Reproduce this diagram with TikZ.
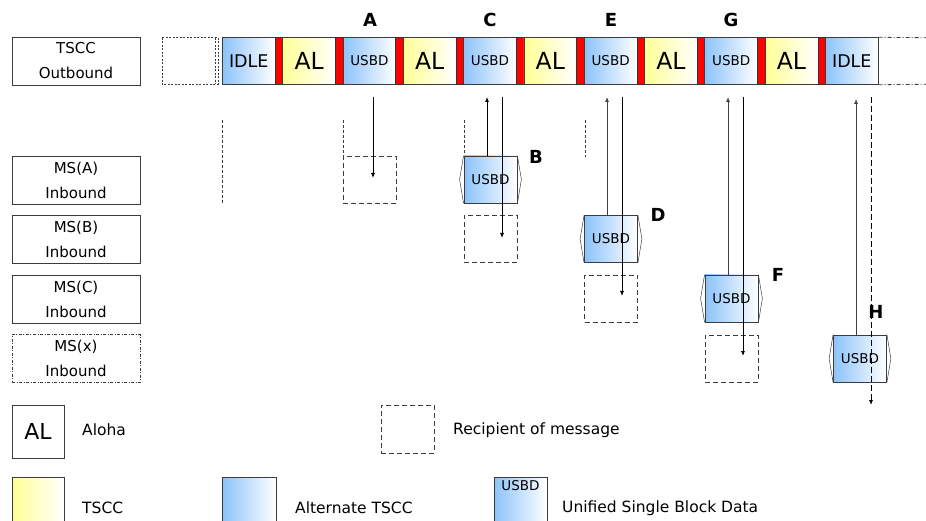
\documentclass[tikz,border=0pt]{standalone}
\usepackage{fontspec}
\setmainfont{DejaVu Sans}
\usetikzlibrary{arrows.meta}
\definecolor{bblue}{RGB}{140,195,250}
\definecolor{byel}{RGB}{255,255,150}
\definecolor{lin}{RGB}{60,60,60}
\begin{document}
\begin{tikzpicture}[x=1pt,y=-1pt,
  blk/.style={draw=lin, line width=0.8pt, minimum width=52.8pt, minimum height=46.6pt, inner sep=0pt, anchor=west},
  bluef/.style={left color=bblue, right color=white},
  yelf/.style={left color=byel, right color=white},
  redbar/.style={draw=black!80, fill=red, line width=0.5pt, minimum width=7.5pt, minimum height=46.6pt, inner sep=0pt, anchor=west},
  fidle/.style={font=\fontsize{17.5}{18}\selectfont},
  fal/.style={font=\fontsize{23.5}{26}\selectfont},
  fusbd/.style={font=\fontsize{13.5}{14}\selectfont},
  lblbox/.style={draw=lin, line width=0.8pt, minimum width=128pt, minimum height=48pt, inner sep=0pt, align=center, font=\fontsize{15}{25}\selectfont},
  msgbox/.style={draw=lin, line width=0.8pt, bluef, minimum width=53pt, minimum height=47pt, inner sep=0pt, fusbd},
  recbox/.style={draw=lin, line width=0.8pt, dash pattern=on 5pt off 3pt, minimum width=53pt, minimum height=47pt, inner sep=0pt},
  letter/.style={font=\bfseries\fontsize{18}{18}\selectfont},
  legtxt/.style={font=\fontsize{15.5}{17}\selectfont, anchor=west, inner sep=0pt},
  guide/.style={draw=lin, line width=0.7pt, dash pattern=on 3pt off 2pt},
  arr/.style={draw=black, line width=0.8pt, -{Latex[length=5pt,width=4pt]}},
  uparr/.style={draw=black!75, line width=0.8pt, -{Latex[length=5pt,width=4pt]}},
]
\useasboundingbox (0,0) rectangle (926,521);

% left labels
\node[lblbox] (tscc) at (76,61) {TSCC\\Outbound};
\node[lblbox] (msa) at (76,180) {MS(A)\\Inbound};
\node[lblbox] (msb) at (76,239) {MS(B)\\Inbound};
\node[lblbox] (msc) at (76,299) {MS(C)\\Inbound};
\node[lblbox, dash pattern=on 3pt off 1.5pt on 1pt off 1.5pt] (msx) at (76,358.5) {MS(x)\\Inbound};

% dashed pre-box
\draw[draw=lin, line width=0.8pt, dash pattern=on 2pt off 1.5pt] (162,37.7) rectangle (218,84.3);
\draw[draw=lin, line width=0.8pt, dash pattern=on 2pt off 1.5pt] (215,37.7) -- (215,84.3);

% strip
\node[blk, bluef, fidle] (b0) at (222,61) {IDLE};
\node[redbar] (r0) at (274.8,61) {};
\node[blk, yelf, fal] (b1) at (282.3,61) {AL};
\node[redbar] (r1) at (335.1,61) {};
\node[blk, bluef, fusbd] (b2) at (342.6,61) {USBD};
\node[redbar] (r2) at (395.4,61) {};
\node[blk, yelf, fal] (b3) at (402.9,61) {AL};
\node[redbar] (r3) at (455.7,61) {};
\node[blk, bluef, fusbd] (b4) at (463.2,61) {USBD};
\node[redbar] (r4) at (516.0,61) {};
\node[blk, yelf, fal] (b5) at (523.5,61) {AL};
\node[redbar] (r5) at (576.3,61) {};
\node[blk, bluef, fusbd] (b6) at (583.8,61) {USBD};
\node[redbar] (r6) at (636.6,61) {};
\node[blk, yelf, fal] (b7) at (644.1,61) {AL};
\node[redbar] (r7) at (696.9,61) {};
\node[blk, bluef, fusbd] (b8) at (704.4,61) {USBD};
\node[redbar] (r8) at (757.2,61) {};
\node[blk, yelf, fal] (b9) at (764.7,61) {AL};
\node[redbar] (r9) at (817.5,61) {};
\node[blk, bluef, fidle] (b10) at (825,61) {IDLE};
\draw[draw=lin, line width=0.8pt, dash pattern=on 4pt off 2pt on 1pt off 2pt] (b10.north east) -- (926,37.7);
\draw[draw=lin, line width=0.8pt, dash pattern=on 4pt off 2pt on 1pt off 2pt] (b10.south east) -- (926,84.3);

% letters
\node[letter] (lA) at (370,20) {A};
\node[letter] (lC) at (490,20) {C};
\node[letter] (lE) at (611,20) {E};
\node[letter] (lG) at (731,20) {G};
\node[letter] (lB) at (536,157) {B};
\node[letter] (lD) at (658,215) {D};
\node[letter] (lF) at (778,275) {F};
\node[letter] (lH) at (876,312) {H};

% guides
\draw[guide] (222,120) -- (222,203);
\draw[guide] (343,120) -- (343,156);
\draw[guide] (464,120) -- (464,156);
\draw[guide] (585,120) -- (585,157);

% recipient boxes
\node[recbox] (ra) at (369.5,179.5) {};
\node[recbox] (rb) at (490.5,239) {};
\node[recbox] (rc) at (611,298.5) {};
\node[recbox] (rx) at (731.5,358.5) {};

% message boxes
\node[msgbox] (mB) at (490.5,179.5) {USBD};
\node[msgbox] (mD) at (611,239) {USBD};
\node[msgbox] (mF) at (731.5,298.5) {USBD};
\node[msgbox] (mH) at (860,358.5) {USBD};
\foreach \m in {mB,mD,mF,mH}{
  \draw[draw=lin, line width=0.5pt] (\m.north west) -- ([xshift=-4pt]\m.west) -- (\m.south west);
  \draw[draw=lin, line width=0.5pt] (\m.north east) -- ([xshift=4pt]\m.east) -- (\m.south east);
}

% connectors
\coordinate (tA) at (373,97);   \coordinate (eA) at (373,178);
\coordinate (tB) at (487,97);   \coordinate (sB) at (487,156);
\coordinate (tC) at (502,97);   \coordinate (eC) at (502,238);
\coordinate (tD) at (607,97);   \coordinate (sD) at (607,215.5);
\coordinate (tE) at (622,97);   \coordinate (eE) at (622,296);
\coordinate (tF) at (728,97);   \coordinate (sF) at (728,275);
\coordinate (tG) at (743,97);   \coordinate (eG) at (743,356);
\coordinate (tH) at (856,99);   \coordinate (sH) at (856,335);
\coordinate (tH2) at (871,97);  \coordinate (eH2) at (871,405);
\draw[arr] (tA) -- (eA);
\draw[arr] (sB) -- (tB);
\draw[arr] (tC) -- (eC);
\draw[uparr] (sD) -- (tD);
\draw[arr] (tE) -- (eE);
\draw[uparr] (sF) -- (tF);
\draw[arr] (tG) -- (eG);
\draw[uparr] (sH) -- (tH);
\draw[arr, dash pattern=on 6pt off 3pt] (tH2) -- (eH2);

% legend
\node[draw=lin, line width=0.8pt, minimum width=52pt, minimum height=53pt, inner sep=0pt, font=\fontsize{22}{24}\selectfont] (lgAL) at (38,431.5) {AL};
\node[legtxt] (tAL) at (82,430) {Aloha};
\node[recbox, minimum height=48pt] (lgR) at (407.5,429) {};
\node[legtxt] (tR) at (453,430) {Recipient of message};
\node[draw=lin, line width=0.8pt, yelf, minimum width=52pt, minimum height=48pt, inner sep=0pt, anchor=north] (lgT) at (38,477) {};
\node[legtxt] (tT) at (82,508) {TSCC};
\node[draw=lin, line width=0.8pt, bluef, minimum width=54pt, minimum height=48pt, inner sep=0pt, anchor=north] (lgA) at (249,477) {};
\node[legtxt] (tA2) at (295,508) {Alternate TSCC};
\node[draw=lin, line width=0.8pt, bluef, minimum width=53pt, minimum height=48pt, inner sep=0pt, anchor=north] (lgU) at (520.5,477) {};
\node[fusbd, inner sep=0pt] (lgUt) at (520.5,486) {USBD};
\node[legtxt] (tU) at (562,508) {Unified Single Block Data};
\end{tikzpicture}
\end{document}
